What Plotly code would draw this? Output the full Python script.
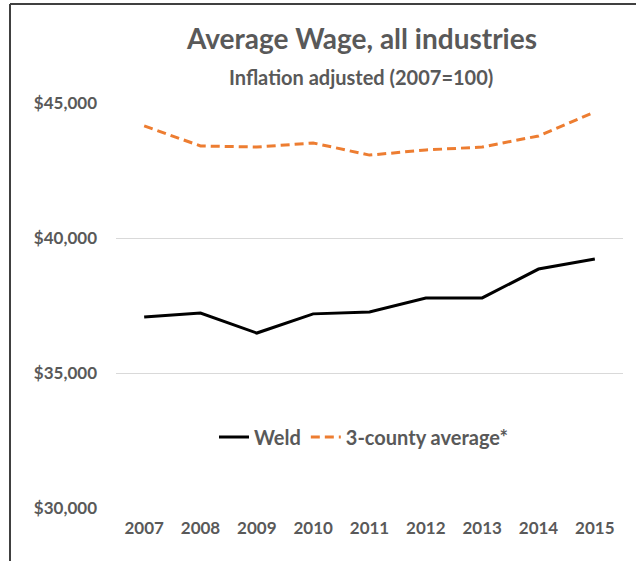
import plotly.graph_objects as go

years = ['2007', '2008', '2009', '2010', '2011', '2012', '2013', '2014', '2015']
weld = [37070, 37220, 36480, 37190, 37260, 37780, 37780, 38850, 39220]
three_county = [44150, 43410, 43370, 43520, 43070, 43260, 43370, 43780, 44670]
ytick_vals = [30000, 35000, 40000, 45000]
ytick_text = ['$30,000', '$35,000', '$40,000', '$45,000']

W, H = 636, 561
ml, mr, mt, mb = 116, 13, 103, 53
pw = W - ml - mr
ph = H - mt - mb

grey = '#595959'
fnt = 'Lato'

def px_x(x):
    return (x - ml) / pw

def px_y(y):
    return (H - mb - y) / ph

fig = go.Figure()
fig.add_trace(go.Scatter(x=years, y=weld, name='Weld', mode='lines',
                         line=dict(color='black', width=3)))
fig.add_trace(go.Scatter(x=years, y=three_county, name='3-county average*',
                         mode='lines',
                         line=dict(color='#ED7D31', width=3, dash='9px,5px')))

fig.update_layout(
    width=W, height=H,
    margin=dict(l=ml, r=mr, t=mt, b=mb),
    plot_bgcolor='white', paper_bgcolor='white',
    font=dict(family=fnt, color=grey, size=17, weight='bold'),
    title=dict(text='Average Wage, all industries',
               font=dict(family=fnt, size=28, color=grey, weight='bold'),
               x=362 / W, xanchor='center', y=1 - 39 / H, yanchor='middle'),
    xaxis=dict(type='category', range=[-0.5, 8.5], showgrid=False,
               showline=False, ticks='', ticklabelstandoff=8,
               tickfont=dict(size=17, color=grey, weight='bold')),
    yaxis=dict(range=[30000, 45000], tickvals=ytick_vals, ticktext=ytick_text,
               showgrid=True, gridcolor='#D9D9D9', gridwidth=1,
               zeroline=False, showline=False, ticks='', ticklabelstandoff=18,
               tickfont=dict(size=17, color=grey, weight='bold')),
    legend=dict(orientation='h', x=px_x(364), xanchor='center',
                y=px_y(437), yanchor='middle', itemwidth=30,
                font=dict(size=20, color=grey, weight='bold'),
                bgcolor='rgba(0,0,0,0)'),
    showlegend=True,
)

fig.add_annotation(text='Inflation adjusted (2007=100)', xref='paper', yref='paper',
                   x=px_x(361), y=px_y(77), xanchor='center', yanchor='middle',
                   showarrow=False,
                   font=dict(family=fnt, size=20, color=grey, weight='bold'))

# frame: top and left edges only
fig.add_shape(type='line', xref='paper', yref='paper',
              x0=px_x(10), y0=px_y(4), x1=px_x(640), y1=px_y(4),
              line=dict(color='#404040', width=2))
fig.add_shape(type='line', xref='paper', yref='paper',
              x0=px_x(10), y0=px_y(4), x1=px_x(10), y1=px_y(565),
              line=dict(color='#404040', width=2))

# page body has a default 8px margin; drop it so the figure sits at 0,0
fig.write_html("out.html", config={'displayModeBar': False},
               post_script="document.body.style.margin='0';")
